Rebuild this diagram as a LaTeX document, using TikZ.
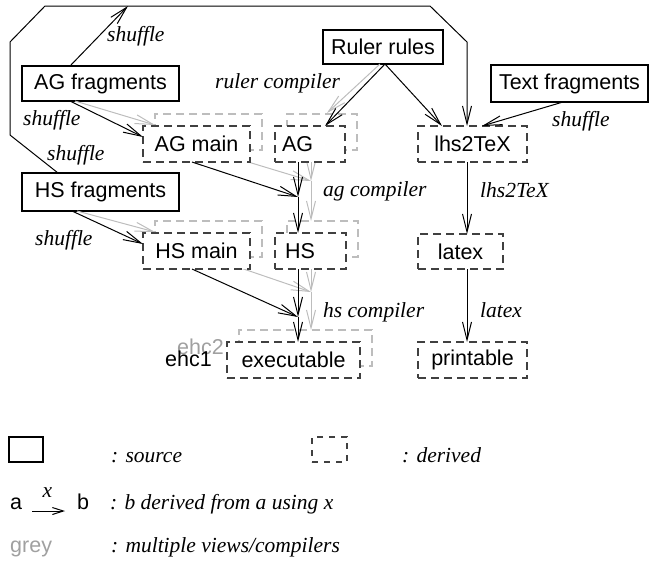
\documentclass[tikz,border=0pt]{standalone}
\usepackage{fontspec}
\setmainfont{Liberation Serif}
\setsansfont{Liberation Sans}
\usetikzlibrary{arrows.meta,calc}
\definecolor{dgrey}{HTML}{404040}
\definecolor{lgrey}{HTML}{BDBDBD}
\definecolor{tgrey}{HTML}{A0A0A0}
\tikzset{
  sfont/.style={font=\sffamily\fontsize{21.5}{26}\selectfont},
  src/.style={draw=black, line width=1.1pt, fill=white, inner sep=0pt, outer sep=0pt, sfont},
  drv/.style={draw=dgrey, line width=1.3pt, dash pattern=on 8pt off 5pt, fill=white, inner sep=0pt, outer sep=0pt, sfont},
  gdrv/.style={draw=lgrey, line width=1.3pt, dash pattern=on 8pt off 5pt, inner sep=0pt, outer sep=0pt},
  lbl/.style={font=\rmfamily\itshape\fontsize{21.5}{26}\selectfont, anchor=base west, inner sep=0pt},
  txt/.style={sfont, anchor=base west, inner sep=0pt},
  arr/.style={-{Straight Barb[length=18pt,width=9pt]}, line width=1pt, draw=black},
  garr/.style={-{Straight Barb[length=18pt,width=9pt]}, line width=1pt, draw=lgrey}
}
\begin{document}
\begin{tikzpicture}[x=1pt,y=-1pt]
\useasboundingbox (0,0) rectangle (652,563);

% grey (second view) boxes
\node[gdrv, minimum width=107, minimum height=36] (gAGmain) at (208.5,132) {};
\node[gdrv, minimum width=70, minimum height=36] (gAG) at (322,132) {};
\node[gdrv, minimum width=107, minimum height=36] (gHSmain) at (208.5,239) {};
\node[gdrv, minimum width=71, minimum height=36] (gHS) at (322.5,239) {};
\node[gdrv, minimum width=133, minimum height=36] (gexe) at (305.5,348) {};

% grey junctions
\coordinate (gJ2) at (311,181);
\coordinate (gJ4) at (311,292);

% grey connectors
\draw[garr] (gAGmain.south) -- (gJ2);
\draw[garr] ($(gAG.south west)+(24,0)$) -- (gJ2);
\draw[garr] (gJ2) -- ($(gHS.north west)+(24,0)$);
\draw[garr] (gHSmain.south) -- (gJ4);
\draw[garr] ($(gHS.south west)+(24,0)$) -- (gJ4);
\draw[garr] (gJ4) -- ($(gexe.north west)+(72,0)$);

% derived boxes
\node[drv, minimum width=107, minimum height=36] (AGmain) at (196.5,144) {AG main};
\node[drv, minimum width=70, minimum height=36, text width=56pt, inner xsep=7pt, align=left] (AG) at (310,144) {AG};
\node[drv, minimum width=109, minimum height=36] (lhs) at (472.5,144) {lhs2TeX};
\node[drv, minimum width=107, minimum height=36] (HSmain) at (196.5,251) {HS main};
\node[drv, minimum width=71, minimum height=36, text width=51pt, inner xsep=10pt, align=left] (HS) at (310.5,251) {HS};
\node[drv, minimum width=85, minimum height=35] (latex) at (460.5,251.5) {latex};
\node[drv, minimum width=133, minimum height=36] (exe) at (293.5,360) {executable};
\node[drv, minimum width=109, minimum height=36] (printable) at (472.5,360) {printable};

% source boxes
\node[src, minimum width=157, minimum height=35] (AGfrag) at (100.5,83.5) {AG fragments};
\node[src, minimum width=120, minimum height=34] (ruler) at (383,47) {Ruler rules};
\node[src, minimum width=157, minimum height=37] (textfrag) at (569.5,83.5) {Text fragments};
\node[src, minimum width=157, minimum height=38] (HSfrag) at (100.5,192) {HS fragments};

% compiler names
\node[txt, text=tgrey] (ehc2) at (177,354) {ehc2};
\node[txt] (ehc1) at (165,366) {ehc1};

% grey connectors from sources
\draw[garr] ($(AGfrag.south west)+(53,0)$) -- ($(gAGmain.north west)+(0,11)$);
\draw[garr] ($(HSfrag.south west)+(55,0)$) -- ($(gHSmain.north west)+(0,11)$);
\draw[garr] ($(ruler.south)+(-3,0)$) -- ($(gAG.north west)+(40,-1)$);

% frame (shuffle to lhs2TeX)
\coordinate (f1) at (10,135);
\coordinate (f2) at (10,42);
\coordinate (f3) at (45,6);
\coordinate (f4) at (430,6);
\coordinate (f5) at (467,42);
\coordinate (t1) at (128,6);
\draw[arr] ($(HSfrag.north west)+(36,0)$) -- (f1) -- (f2) -- (f3) -- (f4) -- (f5) -- ($(lhs.north west)+(49,0)$);
\draw[arr] ($(AGfrag.north west)+(48,0)$) -- (t1);

% black junctions
\coordinate (J1) at (298,197);
\coordinate (J3) at (298,317);

% black connectors
\draw[arr] ($(AGfrag.south west)+(48,0)$) -- ($(AGmain.north west)+(0,11)$);
\draw[arr] ($(HSfrag.south west)+(50,0)$) -- ($(HSmain.north west)+(0,11)$);
\draw[arr] ($(ruler.south)+(2,0)$) -- ($(AG.north west)+(50,0)$);
\draw[arr] ($(ruler.south)+(2,0)$) -- ($(lhs.north west)+(24,0)$);
\draw[arr] ($(textfrag.south west)+(72,0)$) -- ($(lhs.north west)+(64,0)$);
\draw[arr] ($(lhs.south west)+(49,0)$) -- ($(latex.north west)+(49,0)$);
\draw[arr] ($(latex.south west)+(49,0)$) -- ($(printable.north west)+(49,0)$);
\draw[arr] ($(AGmain.south)+(-4.5,0)$) -- (J1);
\draw[arr] ($(AG.south west)+(23,0)$) -- (J1);
\draw[arr] (J1) -- ($(HS.north west)+(23,0)$);
\draw[arr] ($(HSmain.south)+(-4.5,0)$) -- (J3);
\draw[arr] ($(HS.south west)+(23,0)$) -- (J3);
\draw[arr] (J3) -- ($(exe.north west)+(71,0)$);

% labels
\node[lbl] (l1) at (107,41) {shuffle};
\node[lbl] (l2) at (215,88) {ruler compiler};
\node[lbl] (l3) at (23,125) {shuffle};
\node[lbl] (l4) at (47,160) {shuffle};
\node[lbl] (l5) at (552,126) {shuffle};
\node[lbl] (l6) at (323,196) {ag compiler};
\node[lbl] (l7) at (480,197) {lhs2TeX};
\node[lbl] (l8) at (35,245) {shuffle};
\node[lbl] (l9) at (323,317) {hs compiler};
\node[lbl] (l10) at (480,317) {latex};

% legend
\node[src, minimum width=34, minimum height=25] (lsrc) at (26,449.5) {};
\node[lbl] (lsrct) at (111,462) {: source};
\node[drv, minimum width=35, minimum height=25, dash pattern=on 6pt off 6pt] (ldrv) at (329.5,449.5) {};
\node[lbl] (ldrvt) at (402,462) {: derived};
\node[txt] (la) at (10,509) {a};
\node[txt] (lb) at (77,509) {b};
\draw[-{Straight Barb[length=11pt,width=7pt]}, line width=1pt] ($(la.base east)+(10,2)$) -- ($(lb.base west)+(-12,2)$);
\node[lbl, anchor=base] (lx) at (47.5,497) {x};
\node[lbl] (lat) at (110,509) {: b derived from a using x};
\node[txt, text=tgrey] (lg) at (10,552) {grey};
\node[lbl] (lgt) at (111,552) {: multiple views/compilers};
\end{tikzpicture}
\end{document}
